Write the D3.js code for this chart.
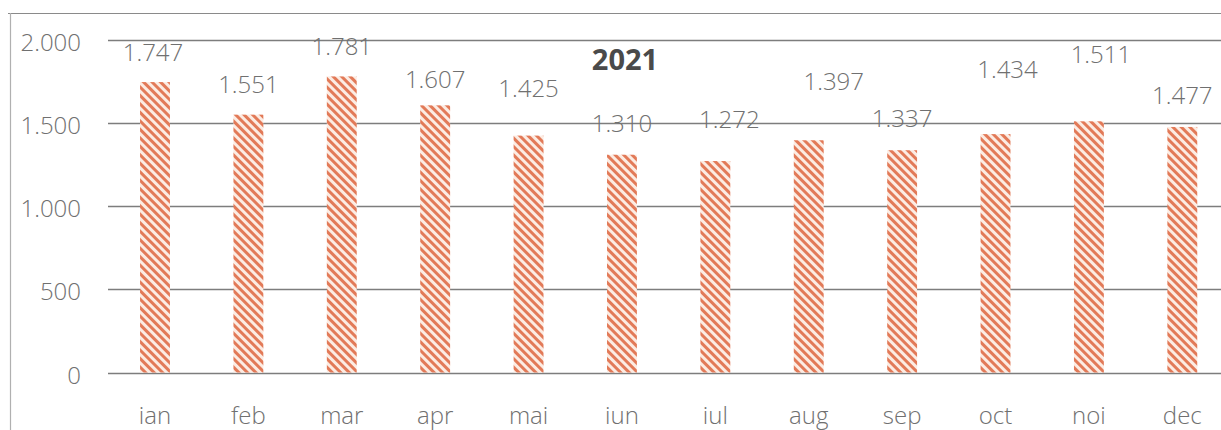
<!DOCTYPE html>
<html>
<head>
<meta charset="utf-8">
<script src="https://cdn.jsdelivr.net/npm/d3@7"></script>
<style>
  html, body { margin: 0; padding: 0; background: #fff; }
  svg { display: block; font-family: "Open Sans", "Liberation Sans", sans-serif; }
</style>
</head>
<body>
<svg id="chart" width="1221" height="430"></svg>
<script>
// ---- data ----
const categories = ["ian", "feb", "mar", "apr", "mai", "iun", "iul", "aug", "sep", "oct", "noi", "dec"];
const values = [1747, 1551, 1781, 1607, 1425, 1310, 1272, 1397, 1337, 1434, 1511, 1477];
const valueLabels = ["1.747", "1.551", "1.781", "1.607", "1.425", "1.310", "1.272", "1.397", "1.337", "1.434", "1.511", "1.477"];
const yTicks = [0, 500, 1000, 1500, 2000];
const yTickLabels = ["0", "500", "1.000", "1.500", "2.000"];
const title = "2021";

// ---- layout (label nudges in px, as placed in the original) ----
const labelDx = [-2, 0, 0, 0, 0, 0, 14, 25, 0, 12, 12, 0];
const labelDy = [-21, -22, -21, -17, -39, -23, -33, -50, -23, -56, -58, -23];

const svg = d3.select("#chart");
const W = 1221, H = 430;
const x = d3.scaleBand().domain(categories).range([108.3, 1229]).paddingInner(0.68).paddingOuter(0.34);
const y = d3.scaleLinear().domain([0, 2000]).range([372.5, 40]);

// hatch pattern
const defs = svg.append("defs");
const pat = defs.append("pattern")
  .attr("id", "hatch").attr("patternUnits", "userSpaceOnUse")
  .attr("width", 6).attr("height", 6)
  .attr("patternTransform", "rotate(-45)");
pat.append("rect").attr("width", 6).attr("height", 6).attr("fill", "#fcece3");
pat.append("rect").attr("x", 0).attr("y", 0).attr("width", 3).attr("height", 6).attr("fill", "#e27a58");

// frame
svg.append("line").attr("x1", 8).attr("x2", W).attr("y1", 13.5).attr("y2", 13.5)
  .attr("stroke", "#8a8a8a").attr("stroke-width", 1.2);
svg.append("line").attr("x1", 10.5).attr("x2", 10.5).attr("y1", 13).attr("y2", H)
  .attr("stroke", "#b0b0b0").attr("stroke-width", 1.2);

// gridlines
svg.append("g").selectAll("line").data(yTicks).join("line")
  .attr("x1", 108).attr("x2", W)
  .attr("y1", d => Math.round(y(d)) + 0.5).attr("y2", d => Math.round(y(d)) + 0.5)
  .attr("stroke", "#7d7d7d").attr("stroke-width", 1.3);

// y tick labels
svg.append("g").selectAll("text").data(yTicks).join("text")
  .attr("x", 81).attr("y", d => y(d) + 11)
  .attr("text-anchor", "end")
  .attr("font-size", 24).attr("font-weight", 300).attr("fill", "#707070")
  .text((d, i) => yTickLabels[i]);

// bars
svg.append("g").selectAll("rect").data(values).join("rect")
  .attr("x", (d, i) => x(categories[i]))
  .attr("width", x.bandwidth())
  .attr("y", d => y(d))
  .attr("height", d => y(0) - y(d))
  .attr("fill", "url(#hatch)");

// value labels
svg.append("g").selectAll("text").data(values).join("text")
  .attr("x", (d, i) => x(categories[i]) + x.bandwidth() / 2 + labelDx[i])
  .attr("y", (d, i) => y(d) + labelDy[i])
  .attr("text-anchor", "middle")
  .attr("font-size", 24).attr("font-weight", 300).attr("fill", "#707070")
  .text((d, i) => valueLabels[i]);

// category labels
svg.append("g").selectAll("text").data(categories).join("text")
  .attr("x", d => x(d) + x.bandwidth() / 2)
  .attr("y", 424)
  .attr("text-anchor", "middle")
  .attr("font-size", 24).attr("font-weight", 300).attr("fill", "#707070")
  .text(d => d);

// title
svg.append("text").attr("x", 625).attr("y", 70)
  .attr("text-anchor", "middle").attr("font-size", 29).attr("font-weight", "bold")
  .attr("fill", "#4a4a4a").text(title);
</script>
</body>
</html>
